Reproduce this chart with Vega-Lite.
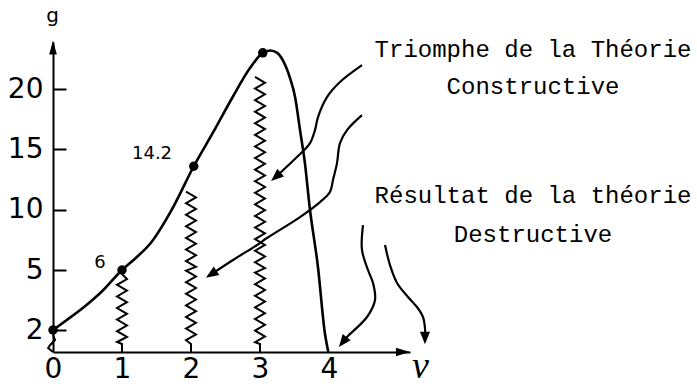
{
  "$schema": "https://vega.github.io/schema/vega-lite/v6.json",
  "width": 357,
  "height": 310,
  "autosize": {"type": "none"},
  "padding": {"left": 53, "top": 42, "right": 287, "bottom": 34},
  "background": "white",
  "config": {"view": {"stroke": null}},
  "datasets": {
    "curve": [
      {"v": 0, "g": 2}, {"v": 0.2, "g": 2.5}, {"v": 0.45, "g": 3.15}, {"v": 0.7, "g": 3.9}, {"v": 1, "g": 5},
      {"v": 1.2, "g": 6.0}, {"v": 1.41, "g": 7.2}, {"v": 1.74, "g": 10.2}, {"v": 2.04, "g": 13.6},
      {"v": 2.32, "g": 16.4}, {"v": 2.6, "g": 19.3}, {"v": 2.85, "g": 21.7}, {"v": 3.04, "g": 23.0},
      {"v": 3.15, "g": 23.2}, {"v": 3.25, "g": 23.0}, {"v": 3.33, "g": 22.4}, {"v": 3.43, "g": 21.0},
      {"v": 3.51, "g": 19.3}, {"v": 3.58, "g": 16.6}, {"v": 3.65, "g": 13.9}, {"v": 3.72, "g": 10.2},
      {"v": 3.84, "g": 5.25}, {"v": 3.94, "g": 1.85}, {"v": 3.99, "g": 0.9}
    ],
    "dots": [
      {"v": 0, "g": 2}, {"v": 1, "g": 5}, {"v": 2.04, "g": 13.6}, {"v": 3.04, "g": 23.0}
    ],
    "springs": [
      {"s": "s0", "v": 0, "g": 1.75}, {"s": "s0", "v": 0.03, "g": 1.5}, {"s": "s0", "v": -0.04, "g": 1.25}, {"s": "s0", "v": -0.07, "g": 1.1}, {"s": "s0", "v": 0, "g": 0.9},
      {"s": "s1", "v": 1.0, "g": 4.8}, {"s": "s1", "v": 1.072, "g": 4.55}, {"s": "s1", "v": 0.928, "g": 4.26}, {"s": "s1", "v": 1.072, "g": 3.97}, {"s": "s1", "v": 0.928, "g": 3.68}, {"s": "s1", "v": 1.072, "g": 3.39}, {"s": "s1", "v": 0.928, "g": 3.1}, {"s": "s1", "v": 1.072, "g": 2.81}, {"s": "s1", "v": 0.928, "g": 2.52}, {"s": "s1", "v": 1.072, "g": 2.23}, {"s": "s1", "v": 0.928, "g": 1.94}, {"s": "s1", "v": 1.072, "g": 1.65}, {"s": "s1", "v": 0.928, "g": 1.4}, {"s": "s1", "v": 1.0, "g": 1.3}, {"s": "s1", "v": 1.0, "g": 0.9},
      {"s": "s2", "v": 1.928, "g": 11.5}, {"s": "s2", "v": 2.072, "g": 11.02}, {"s": "s2", "v": 1.928, "g": 10.54}, {"s": "s2", "v": 2.072, "g": 10.06}, {"s": "s2", "v": 1.928, "g": 9.58}, {"s": "s2", "v": 2.072, "g": 9.1}, {"s": "s2", "v": 1.928, "g": 8.62}, {"s": "s2", "v": 2.072, "g": 8.14}, {"s": "s2", "v": 1.928, "g": 7.66}, {"s": "s2", "v": 2.072, "g": 7.18}, {"s": "s2", "v": 1.928, "g": 6.7}, {"s": "s2", "v": 2.072, "g": 6.22}, {"s": "s2", "v": 1.928, "g": 5.74}, {"s": "s2", "v": 2.072, "g": 5.26}, {"s": "s2", "v": 1.928, "g": 4.97}, {"s": "s2", "v": 2.072, "g": 4.68}, {"s": "s2", "v": 1.928, "g": 4.39}, {"s": "s2", "v": 2.072, "g": 4.1}, {"s": "s2", "v": 1.928, "g": 3.81}, {"s": "s2", "v": 2.072, "g": 3.52}, {"s": "s2", "v": 1.928, "g": 3.23}, {"s": "s2", "v": 2.072, "g": 2.94}, {"s": "s2", "v": 1.928, "g": 2.65}, {"s": "s2", "v": 2.072, "g": 2.36}, {"s": "s2", "v": 1.928, "g": 2.07}, {"s": "s2", "v": 2.072, "g": 1.78}, {"s": "s2", "v": 1.928, "g": 1.49}, {"s": "s2", "v": 2.0, "g": 1.3}, {"s": "s2", "v": 2.0, "g": 0.9},
      {"s": "s3", "v": 2.928, "g": 21.0}, {"s": "s3", "v": 3.072, "g": 20.52}, {"s": "s3", "v": 2.928, "g": 20.04}, {"s": "s3", "v": 3.072, "g": 19.56}, {"s": "s3", "v": 2.928, "g": 19.08}, {"s": "s3", "v": 3.072, "g": 18.6}, {"s": "s3", "v": 2.928, "g": 18.12}, {"s": "s3", "v": 3.072, "g": 17.64}, {"s": "s3", "v": 2.928, "g": 17.16}, {"s": "s3", "v": 3.072, "g": 16.68}, {"s": "s3", "v": 2.928, "g": 16.2}, {"s": "s3", "v": 3.072, "g": 15.72}, {"s": "s3", "v": 2.928, "g": 15.24}, {"s": "s3", "v": 3.072, "g": 14.76}, {"s": "s3", "v": 2.928, "g": 14.28}, {"s": "s3", "v": 3.072, "g": 13.8}, {"s": "s3", "v": 2.928, "g": 13.32}, {"s": "s3", "v": 3.072, "g": 12.84}, {"s": "s3", "v": 2.928, "g": 12.36}, {"s": "s3", "v": 3.072, "g": 11.88}, {"s": "s3", "v": 2.928, "g": 11.4}, {"s": "s3", "v": 3.072, "g": 10.92}, {"s": "s3", "v": 2.928, "g": 10.44}, {"s": "s3", "v": 3.072, "g": 9.96}, {"s": "s3", "v": 2.928, "g": 9.48}, {"s": "s3", "v": 3.072, "g": 9.0}, {"s": "s3", "v": 2.928, "g": 8.52}, {"s": "s3", "v": 3.072, "g": 8.04}, {"s": "s3", "v": 2.928, "g": 7.56}, {"s": "s3", "v": 3.072, "g": 7.08}, {"s": "s3", "v": 2.928, "g": 6.6}, {"s": "s3", "v": 3.072, "g": 6.12}, {"s": "s3", "v": 2.928, "g": 5.64}, {"s": "s3", "v": 3.072, "g": 5.16}, {"s": "s3", "v": 2.928, "g": 4.87}, {"s": "s3", "v": 3.072, "g": 4.58}, {"s": "s3", "v": 2.928, "g": 4.29}, {"s": "s3", "v": 3.072, "g": 4.0}, {"s": "s3", "v": 2.928, "g": 3.71}, {"s": "s3", "v": 3.072, "g": 3.42}, {"s": "s3", "v": 2.928, "g": 3.13}, {"s": "s3", "v": 3.072, "g": 2.84}, {"s": "s3", "v": 2.928, "g": 2.55}, {"s": "s3", "v": 3.072, "g": 2.26}, {"s": "s3", "v": 2.928, "g": 1.97}, {"s": "s3", "v": 3.072, "g": 1.68}, {"s": "s3", "v": 2.928, "g": 1.39}, {"s": "s3", "v": 3.0, "g": 1.3}, {"s": "s3", "v": 3.0, "g": 0.9}
    ],
    "arrows": [
      {"a": "a1", "v": 4.478, "g": 21.98}, {"a": "a1", "v": 4.159, "g": 20.58}, {"a": "a1", "v": 3.971, "g": 19.33}, {"a": "a1", "v": 3.841, "g": 17.68}, {"a": "a1", "v": 3.797, "g": 16.6}, {"a": "a1", "v": 3.725, "g": 15.52}, {"a": "a1", "v": 3.536, "g": 14.36}, {"a": "a1", "v": 3.29, "g": 13.04}, {"a": "a1", "v": 3.23, "g": 12.73},
      {"a": "a2", "v": 4.478, "g": 17.84}, {"a": "a2", "v": 4.261, "g": 16.6}, {"a": "a2", "v": 4.159, "g": 15.52}, {"a": "a2", "v": 4.116, "g": 13.86}, {"a": "a2", "v": 4.058, "g": 12.46}, {"a": "a2", "v": 4.014, "g": 11.46}, {"a": "a2", "v": 3.87, "g": 10.63}, {"a": "a2", "v": 3.58, "g": 9.39}, {"a": "a2", "v": 3.101, "g": 7.65}, {"a": "a2", "v": 2.957, "g": 7.07}, {"a": "a2", "v": 2.609, "g": 5.83}, {"a": "a2", "v": 2.3, "g": 4.8},
      {"a": "a3", "v": 4.493, "g": 8.73}, {"a": "a3", "v": 4.478, "g": 6.66}, {"a": "a3", "v": 4.565, "g": 5.0}, {"a": "a3", "v": 4.638, "g": 4.35}, {"a": "a3", "v": 4.667, "g": 3.5}, {"a": "a3", "v": 4.551, "g": 2.65}, {"a": "a3", "v": 4.261, "g": 1.65}, {"a": "a3", "v": 4.2, "g": 1.4},
      {"a": "a4", "v": 4.812, "g": 7.07}, {"a": "a4", "v": 4.884, "g": 5.41}, {"a": "a4", "v": 4.986, "g": 4.35}, {"a": "a4", "v": 5.145, "g": 3.65}, {"a": "a4", "v": 5.275, "g": 3.15}, {"a": "a4", "v": 5.362, "g": 2.65}, {"a": "a4", "v": 5.391, "g": 2.1}, {"a": "a4", "v": 5.391, "g": 1.6}
    ],
    "heads": [
      {"h": "yaxis", "v": 0, "g": 23.45},
      {"h": "xaxis", "v": 5.072, "g": 0.9},
      {"h": "a1", "v": 3.23, "g": 12.73},
      {"h": "a2", "v": 2.293, "g": 4.785},
      {"h": "a3", "v": 4.2, "g": 1.4},
      {"h": "a4", "v": 5.391, "g": 1.6}
    ],
    "labels": [
      {"t": "6", "v": 0.681, "g": 5.58},
      {"t": "14.2", "v": 1.435, "g": 14.61}
    ],
    "notes": [
      {"t": "Triomphe de la Théorie", "v": 6.957, "g": 22.65},
      {"t": "Constructive", "v": 6.957, "g": 19.58},
      {"t": "Résultat de la théorie", "v": 6.957, "g": 10.55},
      {"t": "Destructive", "v": 6.957, "g": 7.32}
    ]
  },
  "layer": [
    {
      "data": {"name": "curve"},
      "mark": {"type": "line", "interpolate": "monotone", "color": "black", "strokeWidth": 2.6},
      "encoding": {
        "x": {
          "field": "v", "type": "quantitative",
          "scale": {"domain": [0, 5.174], "nice": false, "zero": false},
          "axis": {
            "values": [0, 1, 2, 3, 4], "format": "d", "title": "ν", "titleX": 367, "titleY": 14,
            "titleAlign": "center", "titleBaseline": "middle", "titleFont": "Liberation Serif",
            "titleFontStyle": "italic", "titleFontWeight": "normal", "titleFontSize": 38, "titleColor": "black",
            "ticks": false, "grid": false, "labelPadding": 3, "labelFontSize": 28, "labelFont": "DejaVu Sans",
            "labelFontWeight": "normal", "labelColor": "black", "labelFlush": false, "labelOverlap": false,
            "domainColor": "black", "domainWidth": 2
          }
        },
        "y": {
          "field": "g", "type": "quantitative",
          "scale": {"domain": [0.9, 5, 23.9], "range": [310, 228, 0], "nice": false, "zero": false},
          "axis": {
            "values": [2, 5, 10, 15, 20], "title": "g", "titleAngle": 0, "titleX": -1, "titleY": -27,
            "titleAlign": "center", "titleBaseline": "middle", "titleFont": "DejaVu Sans", "titleFontWeight": "normal",
            "titleFontSize": 20, "titleColor": "black",
            "tickSize": -13, "tickWidth": 2, "tickColor": "black", "grid": false, "labelPadding": 23,
            "labelFontSize": 28, "labelFont": "DejaVu Sans", "labelFontWeight": "normal", "labelColor": "black",
            "labelFlush": false, "labelOverlap": false, "domainColor": "black", "domainWidth": 2
          }
        }
      }
    },
    {
      "data": {"name": "springs"},
      "mark": {"type": "line", "color": "black", "strokeWidth": 2, "strokeJoin": "miter"},
      "encoding": {
        "x": {"field": "v", "type": "quantitative"},
        "y": {"field": "g", "type": "quantitative"},
        "detail": {"field": "s"},
        "order": {"value": null}
      }
    },
    {
      "data": {"name": "arrows"},
      "mark": {"type": "line", "interpolate": "catmull-rom", "color": "black", "strokeWidth": 2.2},
      "encoding": {
        "x": {"field": "v", "type": "quantitative"},
        "y": {"field": "g", "type": "quantitative"},
        "detail": {"field": "a"},
        "order": {"value": null}
      }
    },
    {
      "data": {"name": "dots"},
      "mark": {"type": "point", "filled": true, "color": "black", "opacity": 1, "size": 90},
      "encoding": {
        "x": {"field": "v", "type": "quantitative"},
        "y": {"field": "g", "type": "quantitative"}
      }
    },
    {
      "data": {"name": "heads"},
      "transform": [{"filter": "datum.h == 'yaxis'"}],
      "mark": {"type": "point", "filled": true, "color": "black", "opacity": 1, "size": 196, "shape": "M0,-1L0.55,1L-0.55,1Z", "angle": 0},
      "encoding": {"x": {"field": "v", "type": "quantitative"}, "y": {"field": "g", "type": "quantitative"}}
    },
    {
      "data": {"name": "heads"},
      "transform": [{"filter": "datum.h == 'xaxis'"}],
      "mark": {"type": "point", "filled": true, "color": "black", "opacity": 1, "size": 196, "shape": "M0,-1L0.6,1L-0.6,1Z", "angle": 90},
      "encoding": {"x": {"field": "v", "type": "quantitative"}, "y": {"field": "g", "type": "quantitative"}}
    },
    {
      "data": {"name": "heads"},
      "transform": [{"filter": "datum.h == 'a1'"}],
      "mark": {"type": "point", "filled": true, "color": "black", "opacity": 1, "size": 160, "shape": "M0,-1L0.8,1L-0.8,1Z", "angle": 229},
      "encoding": {"x": {"field": "v", "type": "quantitative"}, "y": {"field": "g", "type": "quantitative"}}
    },
    {
      "data": {"name": "heads"},
      "transform": [{"filter": "datum.h == 'a2'"}],
      "mark": {"type": "point", "filled": true, "color": "black", "opacity": 1, "size": 160, "shape": "M0,-1L0.8,1L-0.8,1Z", "angle": 237},
      "encoding": {"x": {"field": "v", "type": "quantitative"}, "y": {"field": "g", "type": "quantitative"}}
    },
    {
      "data": {"name": "heads"},
      "transform": [{"filter": "datum.h == 'a3'"}],
      "mark": {"type": "point", "filled": true, "color": "black", "opacity": 1, "size": 160, "shape": "M0,-1L0.8,1L-0.8,1Z", "angle": 218},
      "encoding": {"x": {"field": "v", "type": "quantitative"}, "y": {"field": "g", "type": "quantitative"}}
    },
    {
      "data": {"name": "heads"},
      "transform": [{"filter": "datum.h == 'a4'"}],
      "mark": {"type": "point", "filled": true, "color": "black", "opacity": 1, "size": 160, "shape": "M0,-1L0.8,1L-0.8,1Z", "angle": 180},
      "encoding": {"x": {"field": "v", "type": "quantitative"}, "y": {"field": "g", "type": "quantitative"}}
    },
    {
      "data": {"name": "labels"},
      "mark": {"type": "text", "font": "DejaVu Sans", "fontSize": 18, "fontWeight": "normal", "color": "black", "align": "center", "baseline": "middle"},
      "encoding": {
        "x": {"field": "v", "type": "quantitative"},
        "y": {"field": "g", "type": "quantitative"},
        "text": {"field": "t"}
      }
    },
    {
      "data": {"name": "notes"},
      "mark": {"type": "text", "font": "Liberation Mono", "fontSize": 24, "color": "black", "align": "center", "baseline": "alphabetic"},
      "encoding": {
        "x": {"field": "v", "type": "quantitative"},
        "y": {"field": "g", "type": "quantitative"},
        "text": {"field": "t"}
      }
    }
  ]
}
